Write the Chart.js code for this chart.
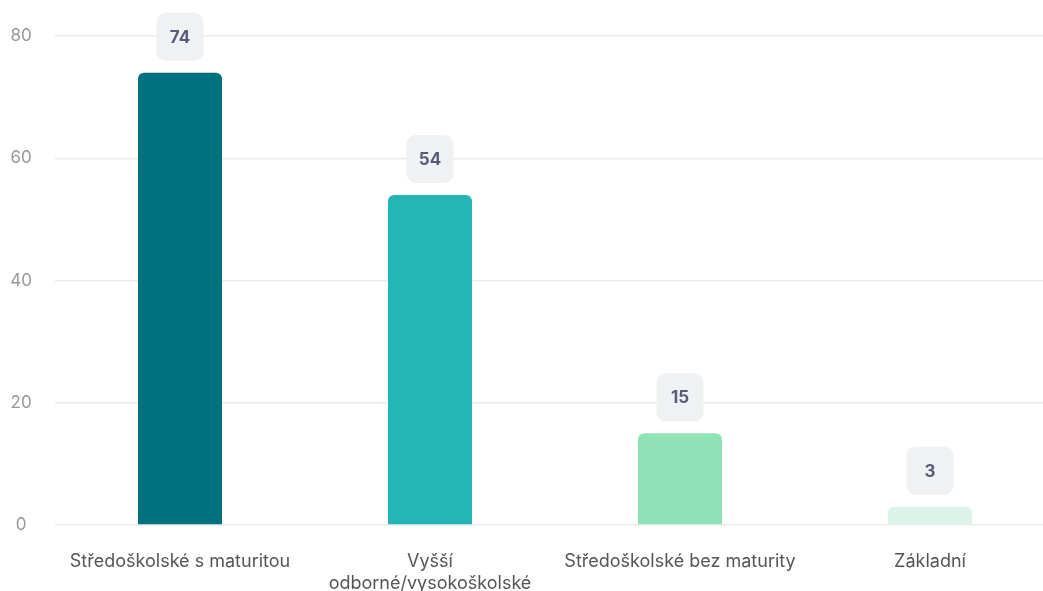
<!DOCTYPE html>
<html lang="cs">
<head>
    <meta charset="UTF-8">
    <title>Vzdělání</title>
    <style>
        html, body {
            margin: 0;
            padding: 0;
            background: #ffffff;
            overflow: hidden;
        }
        .wrap {
            width: 1055px;
            height: 591px;
        }
    </style>
</head>
<body>
<div class="wrap">
    <canvas id="eduChart"></canvas>
</div>
<script src="https://cdn.jsdelivr.net/npm/chart.js"></script>
<script>
    const categories = [
        'Středoškolské s maturitou',
        ['Vyšší', 'odborné/vysokoškolské'],
        'Středoškolské bez maturity',
        'Základní'
    ];
    const values = [74, 54, 15, 3];
    const barColors = ['#00717f', '#24b6b6', '#8fe3b7', '#dcf3ea'];
    const yTicks = [0, 20, 40, 60, 80];

    // draws the value inside a light rounded box above every bar
    const valueBoxes = {
        id: 'valueBoxes',
        afterDatasetsDraw(chart) {
            const ctx = chart.ctx;
            const meta = chart.getDatasetMeta(0);
            ctx.save();
            meta.data.forEach((bar, i) => {
                const w = 47, h = 48, r = 9;
                const x = bar.x - w / 2;
                const y = bar.y - 12 - h;
                ctx.fillStyle = '#f0f1f2';
                ctx.beginPath();
                ctx.roundRect(x, y, w, h, r);
                ctx.fill();
                ctx.fillStyle = '#575b7a';
                ctx.font = 'bold 17px Inter';
                ctx.textAlign = 'center';
                ctx.textBaseline = 'middle';
                ctx.fillText(String(values[i]), bar.x, y + h / 2 + 1);
            });
            ctx.restore();
        }
    };

    new Chart(document.getElementById('eduChart'), {
        type: 'bar',
        data: {
            labels: categories,
            datasets: [{
                data: values,
                backgroundColor: barColors,
                borderRadius: { topLeft: 6, topRight: 6 },
                borderSkipped: 'bottom',
                barPercentage: 0.336,
                categoryPercentage: 1
            }]
        },
        options: {
            responsive: true,
            maintainAspectRatio: false,
            animation: false,
            layout: {
                padding: { top: 36, bottom: 0, left: 0, right: 0 }
            },
            plugins: {
                legend: { display: false },
                tooltip: { enabled: false }
            },
            scales: {
                x: {
                    afterFit: s => { s.height = 66; },
                    grid: { display: false },
                    border: { display: false },
                    ticks: {
                        color: '#555555',
                        font: { family: 'Inter', size: 18, lineHeight: 1.25 },
                        padding: 17,
                        maxRotation: 0,
                        autoSkip: false
                    }
                },
                y: {
                    min: 0,
                    max: 80,
                    afterBuildTicks: s => { s.ticks = yTicks.map(v => ({ value: v })); },
                    afterFit: s => { s.width = 55; },
                    grid: { color: '#ebebeb', lineWidth: 1.5, drawTicks: false },
                    border: { display: false },
                    ticks: {
                        color: '#999999',
                        font: { family: 'Inter', size: 17 },
                        crossAlign: 'center',
                        padding: 23
                    }
                }
            }
        },
        plugins: [valueBoxes]
    });
</script>
</body>
</html>
